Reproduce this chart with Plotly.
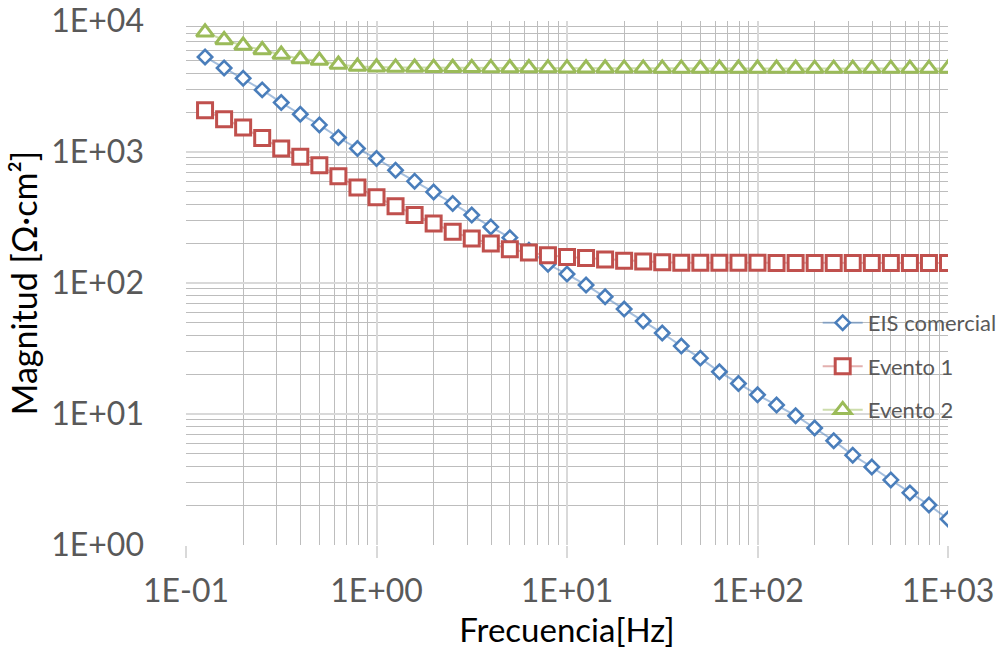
import plotly.graph_objects as go

freq_hz = [0.1259, 0.1585, 0.1995, 0.2512, 0.3162, 0.3981, 0.5012, 0.6310, 0.7943, 1.0,
           1.259, 1.585, 1.995, 2.512, 3.162, 3.981, 5.012, 6.310, 7.943, 10.0,
           12.59, 15.85, 19.95, 25.12, 31.62, 39.81, 50.12, 63.10, 79.43, 100.0,
           125.9, 158.5, 199.5, 251.2, 316.2, 398.1, 501.2, 631.0, 794.3, 1000.0]

eis_comercial = [5315, 4380, 3650, 2980, 2385, 1942, 1610, 1290, 1063, 892,
                 726, 599, 495, 405, 330, 268, 222, 178, 139, 117,
                 96.4, 78.5, 63.2, 51.2, 41.5, 33.0, 26.7, 21.0, 17.1, 14.0,
                 11.7, 9.70, 7.82, 6.25, 4.85, 3.94, 3.14, 2.50, 2.02, 1.58]

evento_1 = [2083, 1779, 1538, 1281, 1063, 918, 793, 653, 536, 452,
            386, 330, 285, 246, 219, 200, 181, 171, 163, 158,
            155, 151, 148, 146, 144, 143, 143, 143, 143, 143,
            142, 142, 142, 142, 142, 142, 142, 142, 142, 142]

evento_2 = [8200, 7165, 6492, 6010, 5542, 5130, 4990, 4650, 4490, 4433,
            4420, 4410, 4400, 4395, 4390, 4385, 4380, 4375, 4370, 4365,
            4360, 4355, 4350, 4350, 4345, 4345, 4340, 4340, 4340, 4335,
            4335, 4335, 4330, 4330, 4330, 4330, 4330, 4330, 4330, 4340]

x_tickvals = [0.1, 1, 10, 100, 1000]
x_ticktext = ["1E-01", "1E+00", "1E+01", "1E+02", "1E+03"]
y_tickvals = [1, 10, 100, 1000, 10000]
y_ticktext = ["1E+00", "1E+01", "1E+02", "1E+03", "1E+04"]

series = [
    ("EIS comercial", eis_comercial, "#4A7EBB", "rgba(74,126,187,0.5)", "diamond", 11, 2.6),
    ("Evento 1", evento_1, "#C0504D", "rgba(192,80,77,0.45)", "square", 15, 3),
    ("Evento 2", evento_2, "#9BBB59", "rgba(155,187,89,0.5)", "triangle-up", 15, 3),
]

fig = go.Figure()
for i, (name, vals, mcol, lcol, sym, size, lw) in enumerate(series):
    fig.add_trace(go.Scatter(
        x=freq_hz, y=vals, name=name, mode="lines+markers",
        legendgroup=f"g{i}",
        line=dict(color=lcol, width=2),
        marker=dict(symbol=sym, size=size, color="white",
                    line=dict(color=mcol, width=lw)),
    ))

font_fam = "Lato, Open Sans, sans-serif"
major_grid = "#D9D9D9"
minor_grid = "#BDBDBD"

fig.update_layout(
    width=1000, height=653,
    margin=dict(l=186, r=52, t=21, b=108, autoexpand=False),
    paper_bgcolor="white", plot_bgcolor="white",
    font=dict(family=font_fam, color="#595959"),
    showlegend=True,
    legend=dict(x=0.829, y=0.464, xanchor="left", yanchor="top",
                bgcolor="rgba(0,0,0,0)", font=dict(size=22, color="#595959", family=font_fam),
                tracegroupgap=12, itemwidth=40),
)

fig.update_xaxes(
    type="log", range=[-1, 3],
    tickvals=x_tickvals, ticktext=x_ticktext,
    tickfont=dict(size=32, color="#595959", family=font_fam),
    ticks="outside", ticklen=12, tickcolor=major_grid, tickwidth=1.5,
    ticklabelstandoff=6,
    showgrid=True, gridcolor=major_grid, gridwidth=1.5,
    minor=dict(showgrid=True, dtick="D1", gridcolor=minor_grid, gridwidth=1.3, ticks=""),
    showline=False, zeroline=False,
    title=dict(text="Frecuencia[Hz]", font=dict(size=33, color="black", family=font_fam), standoff=10),
    automargin=False,
)
fig.update_yaxes(
    type="log", range=[0, 4],
    tickvals=y_tickvals, ticktext=y_ticktext,
    tickfont=dict(size=32, color="#595959", family=font_fam),
    ticks="", ticklabelstandoff=41,
    showgrid=True, gridcolor=major_grid, gridwidth=1.5,
    minor=dict(showgrid=True, dtick="D1", gridcolor=minor_grid, gridwidth=1.3, ticks=""),
    showline=False, zeroline=False,
    title=dict(text="Magnitud [Ω·cm²]", font=dict(size=34, color="black", family=font_fam), standoff=3),
    automargin=False,
)

fig.write_html("out.html", config={"displayModeBar": False},
               post_script="document.body.style.margin='0px';")
